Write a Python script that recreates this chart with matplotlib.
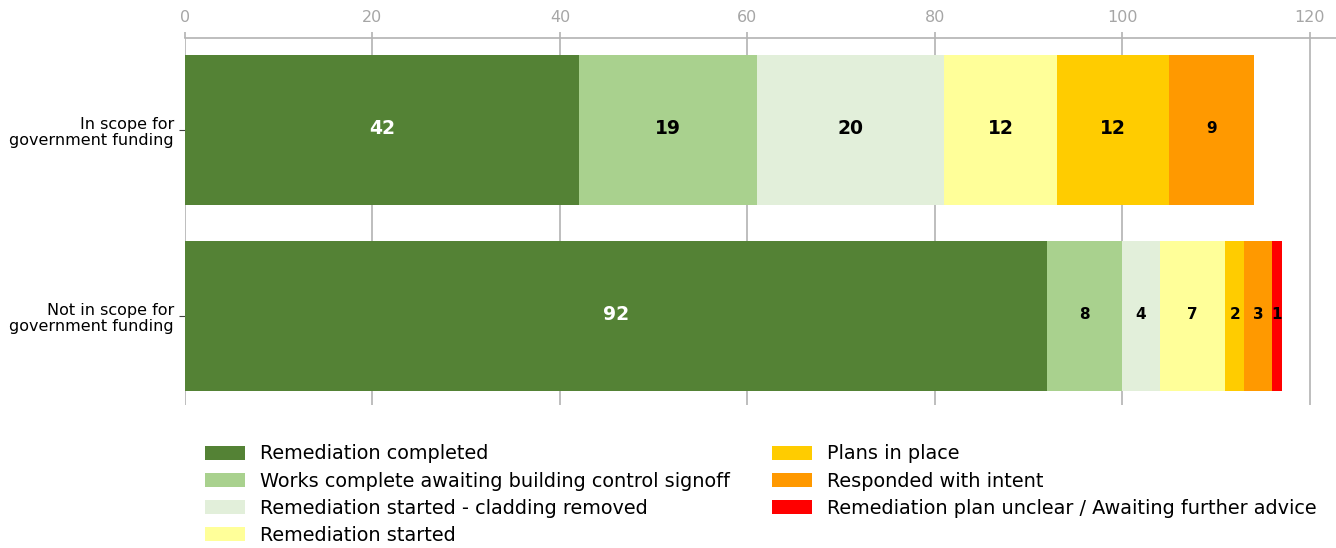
import numpy as np
import matplotlib.pyplot as plt

groups = ["In scope for\ngovernment funding", "Not in scope for\ngovernment funding"]
statuses = [
    "Remediation completed",
    "Works complete awaiting building control signoff",
    "Remediation started - cladding removed",
    "Remediation started",
    "Plans in place",
    "Responded with intent",
    "Remediation plan unclear / Awaiting further advice",
]
colors = ["#548235", "#A9D18E", "#E2EFDA", "#FFFF99", "#FFCC00", "#FF9900", "#FF0000"]
text_colors = ["white", "black", "black", "black", "black", "black", "black"]
in_scope = [42, 19, 20, 12, 12, 9, 0]
not_in_scope = [92, 8, 4, 7, 2, 3, 1]
values = np.array([in_scope, not_in_scope])

fig = plt.figure(figsize=(13.36, 5.48), dpi=100)
ax = fig.add_axes([0.1385, 0.261, 0.8615, 0.6697])

y = np.arange(len(groups))
left = np.zeros(len(groups))
for i, name in enumerate(statuses):
    vals = values[:, i]
    ax.barh(y, vals, left=left, height=0.806, color=colors[i], label=name, zorder=2)
    for j in range(len(groups)):
        v = vals[j]
        if v > 0:
            ax.text(left[j] + v / 2, y[j] - 0.01, str(v), ha="center", va="center",
                    fontsize=13.5 if v >= 10 else 11, fontweight="bold",
                    color=text_colors[i], zorder=3)
    left += vals

ax.set_xlim(0, 122.8)
ax.set_ylim(1.478, -0.495)
ax.set_xticks(range(0, 121, 20))
ax.xaxis.tick_top()
ax.tick_params(axis="x", length=4, width=1.2, color="#B3B3B3", labelsize=11.5,
               labelcolor="#A6A6A6", pad=5)
ax.set_yticks(y)
ax.set_yticklabels(groups, fontsize=11.5, linespacing=1.1)
ax.tick_params(axis="y", length=4, color="#404040", pad=4)
ax.grid(axis="x", color="#B3B3B3", linewidth=1.2, zorder=0)
for s in ["right", "bottom", "left"]:
    ax.spines[s].set_visible(False)
ax.spines["top"].set_color("#B3B3B3")
ax.spines["top"].set_linewidth(1.2)

fig.legend(loc="upper left", bbox_to_anchor=(0.1534, 0.189), ncol=2, frameon=False,
           fontsize=13.9, handlelength=2.08, handleheight=0.73, handletextpad=0.78,
           labelspacing=0.42, columnspacing=2.15, borderaxespad=0, borderpad=0)

fig.savefig("out.png", dpi=100)
